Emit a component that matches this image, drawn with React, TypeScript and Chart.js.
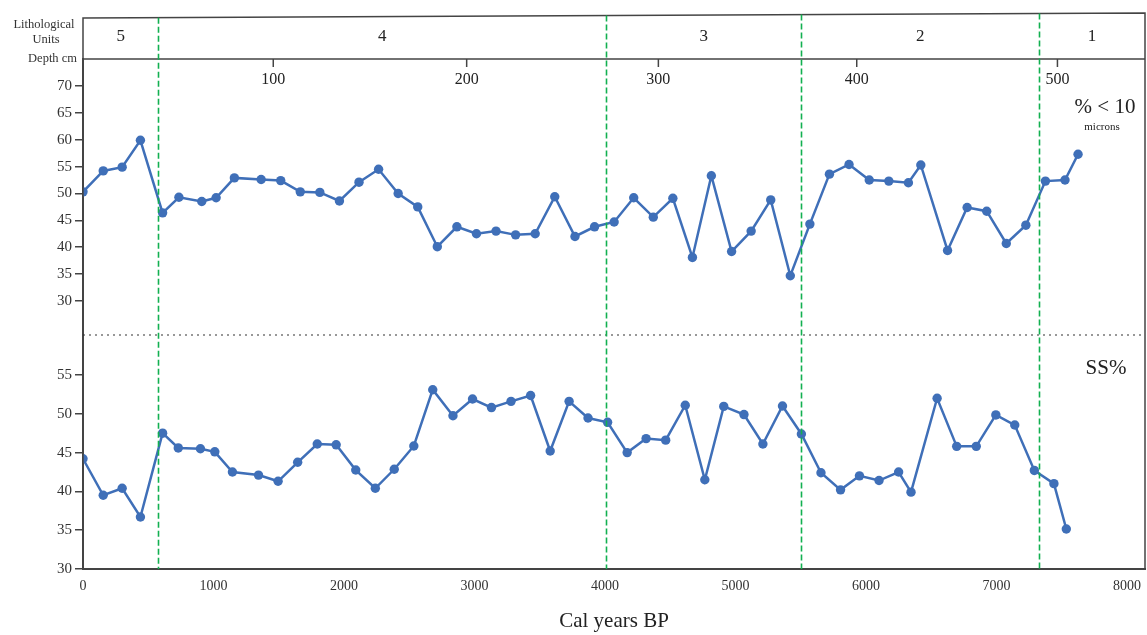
import React, { useEffect, useRef } from 'react';
import { Chart, registerables } from 'chart.js';

Chart.register(...registerables);

// ---- data ----
const xTickValues = [0, 1000, 2000, 3000, 4000, 5000, 6000, 7000, 8000];
const fineTickValues = [30, 35, 40, 45, 50, 55, 60, 65, 70];
const ssTickValues = [30, 35, 40, 45, 50, 55];

const fineAges = [0, 155, 300, 440, 610, 735, 910, 1020, 1160, 1365, 1515, 1665, 1815, 1965, 2115, 2265, 2415, 2565, 2715, 2865, 3015, 3165, 3315, 3465, 3615, 3770, 3920, 4070, 4220, 4370, 4520, 4670, 4815, 4970, 5120, 5270, 5420, 5570, 5720, 5870, 6025, 6175, 6325, 6420, 6625, 6775, 6925, 7075, 7225, 7375, 7525, 7625];
const fineValues = [50.3, 54.2, 54.9, 59.9, 46.4, 49.3, 48.5, 49.2, 52.9, 52.6, 52.4, 50.3, 50.2, 48.6, 52.1, 54.5, 50.0, 47.5, 40.1, 43.8, 42.5, 43.0, 42.3, 42.5, 49.4, 42.0, 43.8, 44.7, 49.2, 45.6, 49.1, 38.1, 53.3, 39.2, 43.0, 48.8, 34.7, 44.3, 53.6, 55.4, 52.5, 52.3, 52.0, 55.3, 39.4, 47.4, 46.7, 40.7, 44.1, 52.3, 52.5, 57.3];

const ssAges = [0, 155, 300, 440, 610, 730, 900, 1010, 1145, 1345, 1495, 1645, 1795, 1940, 2090, 2240, 2385, 2535, 2680, 2835, 2985, 3130, 3280, 3430, 3580, 3725, 3870, 4020, 4170, 4315, 4465, 4615, 4765, 4910, 5065, 5210, 5360, 5505, 5655, 5805, 5950, 6100, 6250, 6345, 6545, 6695, 6845, 6995, 7140, 7290, 7440, 7535];
const ssValues = [44.2, 39.5, 40.4, 36.7, 47.5, 45.6, 45.5, 45.1, 42.5, 42.1, 41.3, 43.75, 46.1, 46.0, 42.75, 40.4, 42.85, 45.85, 53.1, 49.75, 51.9, 50.8, 51.6, 52.35, 45.2, 51.6, 49.45, 48.9, 45.0, 46.8, 46.6, 51.1, 41.5, 50.95, 49.9, 46.1, 51.0, 47.4, 42.4, 40.2, 42.0, 41.4, 42.5, 39.9, 52.0, 45.8, 45.8, 49.85, 48.55, 42.7, 41.0, 35.15];

const unitBoundaries = [577, 4010, 5505, 7326];
const unitLabels = ['5', '4', '3', '2', '1'];
const depthLabels = ['100', '200', '300', '400', '500'];
const depthAges = [1458, 2940, 4409, 5929, 7467];

const SERIF = '"Liberation Serif", "Times New Roman", serif';
const LINE_BLUE = '#3f6fb8';
const AXIS = '#444';
const RIGHT_GAP = 2;

// keep the plot frame flush with the right edge, as in the reference
const rightEdgePlugin = {
  id: 'rightEdge',
  afterLayout(chart: any) {
    const target = chart.width - RIGHT_GAP;
    const x = chart.scales.x;
    chart.chartArea.right = target;
    chart.chartArea.width = target - chart.chartArea.left;
    x.right = target;
    x.width = target - x.left;
    x.configure();
  },
};

const overlayPlugin = {
  id: 'overlay',
  afterDraw(chart: any) {
    const ctx = chart.ctx;
    const xs = chart.scales.x;
    const yLow = chart.scales.yLow;
    const area = chart.chartArea;
    const L = area.left;
    const R = area.right;
    const topL = 18;
    const topR = 13;
    const topAt = (px: number) => topL + (topR - topL) * (px - L) / (R - L);
    ctx.save();

    // frame
    ctx.strokeStyle = AXIS;
    ctx.lineWidth = 1.5;
    ctx.beginPath();
    ctx.moveTo(L, area.bottom);
    ctx.lineTo(L, topL);
    ctx.lineTo(R, topR);
    ctx.lineTo(R, area.bottom);
    ctx.moveTo(L, area.top);
    ctx.lineTo(R, area.top);
    ctx.stroke();

    // dotted separator
    ctx.strokeStyle = '#333';
    ctx.lineWidth = 1.2;
    ctx.setLineDash([2, 4]);
    ctx.beginPath();
    ctx.moveTo(L, yLow.top);
    ctx.lineTo(R, yLow.top);
    ctx.stroke();

    // unit boundaries
    ctx.strokeStyle = '#12b050';
    ctx.lineWidth = 1.6;
    ctx.setLineDash([6, 3]);
    unitBoundaries.forEach((age) => {
      const px = Math.round(xs.getPixelForValue(age)) + 0.5;
      ctx.beginPath();
      ctx.moveTo(px, topAt(px));
      ctx.lineTo(px, area.bottom);
      ctx.stroke();
    });
    ctx.setLineDash([]);

    // unit labels
    const edges = [L, ...unitBoundaries.map((a) => xs.getPixelForValue(a)), R];
    ctx.fillStyle = '#222';
    ctx.font = `17px ${SERIF}`;
    ctx.textAlign = 'center';
    ctx.textBaseline = 'middle';
    unitLabels.forEach((lab, i) => {
      ctx.fillText(lab, (edges[i] + edges[i + 1]) / 2, 37);
    });

    // depth axis
    ctx.strokeStyle = AXIS;
    ctx.lineWidth = 1.5;
    ctx.font = `16px ${SERIF}`;
    depthAges.forEach((age, i) => {
      const px = xs.getPixelForValue(age);
      ctx.beginPath();
      ctx.moveTo(px, area.top);
      ctx.lineTo(px, area.top + 8);
      ctx.stroke();
      ctx.fillText(depthLabels[i], px, 80);
    });

    // header labels
    ctx.font = `12.5px ${SERIF}`;
    ctx.fillStyle = '#333';
    ctx.fillText('Lithological', 44, 25);
    ctx.fillText('Units', 46, 40);
    ctx.textAlign = 'right';
    ctx.fillText('Depth cm', 77, 59);

    // series labels
    ctx.textAlign = 'center';
    ctx.fillStyle = '#222';
    ctx.font = `21px ${SERIF}`;
    ctx.fillText('% < 10', 1105, 107);
    ctx.font = `11px ${SERIF}`;
    ctx.fillText('microns', 1102, 127);
    ctx.font = `21px ${SERIF}`;
    ctx.fillText('SS%', 1106, 368);

    ctx.restore();
  },
};

export default function App() {
  const canvasRef = useRef<HTMLCanvasElement | null>(null);

  useEffect(() => {
    document.body.style.margin = '0';
    const canvas = canvasRef.current;
    if (!canvas) return;

    const yCommon = (ticks: number[]) => ({
      type: 'linear' as const,
      position: 'left' as const,
      stack: 'panels',
      afterFit: (scale: any) => {
        scale.width = 83;
        scale.paddingTop = 0;
        scale.paddingBottom = 0;
      },
      afterBuildTicks: (scale: any) => {
        scale.ticks = ticks.map((v) => ({ value: v }));
      },
      border: { display: true, color: AXIS, width: 2 },
      grid: { drawOnChartArea: false, drawTicks: true, tickLength: 8, color: AXIS, lineWidth: 1.5 },
      ticks: { color: '#333', padding: 3, autoSkip: false, font: { family: SERIF, size: 15 } },
    });

    const chart = new Chart(canvas, {
      type: 'line',
      data: {
        datasets: [
          {
            label: '% < 10 microns',
            data: fineAges.map((a, i) => ({ x: a, y: fineValues[i] })),
            xAxisID: 'x',
            yAxisID: 'yTop',
            borderColor: LINE_BLUE,
            backgroundColor: LINE_BLUE,
            borderWidth: 2.5,
            pointRadius: 4.7,
            pointBorderWidth: 0,
            tension: 0,
          },
          {
            label: 'SS%',
            data: ssAges.map((a, i) => ({ x: a, y: ssValues[i] })),
            xAxisID: 'x',
            yAxisID: 'yLow',
            borderColor: LINE_BLUE,
            backgroundColor: LINE_BLUE,
            borderWidth: 2.5,
            pointRadius: 4.7,
            pointBorderWidth: 0,
            tension: 0,
          },
        ],
      },
      options: {
        animation: false,
        responsive: false,
        devicePixelRatio: 1,
        layout: { padding: { top: 59, right: RIGHT_GAP, left: 0, bottom: 0 } },
        plugins: {
          legend: { display: false },
          tooltip: { enabled: false },
        },
        scales: {
          x: {
            type: 'linear',
            position: 'bottom',
            min: 0,
            max: 8138,
            afterFit: (scale: any) => {
              scale.height = 66;
              scale.paddingLeft = 0;
              scale.paddingRight = 0;
            },
            afterBuildTicks: (scale: any) => {
              scale.ticks = xTickValues.map((v) => ({ value: v }));
            },
            border: { display: true, color: AXIS, width: 2 },
            grid: { display: false, drawTicks: false },
            ticks: {
              color: '#333',
              padding: 9,
              maxRotation: 0,
              autoSkip: false,
              font: { family: SERIF, size: 14 },
              callback: (v: any) => String(v),
            },
            title: {
              display: true,
              text: 'Cal years BP',
              color: '#222',
              padding: { top: 0, bottom: 1 },
              font: { family: SERIF, size: 21 },
            },
          },
          yLow: { ...yCommon(ssTickValues), min: 30, max: 60.15, stackWeight: 234 },
          yTop: { ...yCommon(fineTickValues), min: 23.67, max: 75.02, stackWeight: 276 },
        },
      },
      plugins: [rightEdgePlugin, overlayPlugin],
    } as any);

    return () => chart.destroy();
  }, []);

  return (
    <div style={{ width: 1147, height: 635 }}>
      <canvas ref={canvasRef} width={1147} height={635} style={{ display: 'block' }} />
    </div>
  );
}
